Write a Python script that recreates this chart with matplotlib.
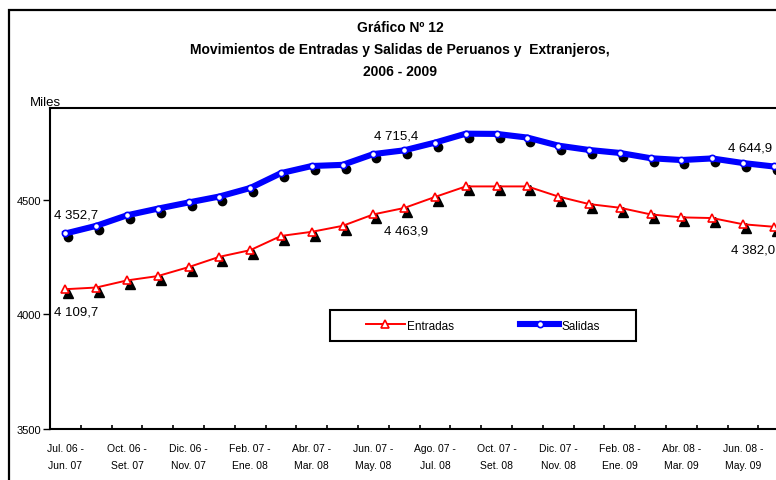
import matplotlib
matplotlib.use("Agg")
import matplotlib.pyplot as plt
import matplotlib.transforms as mtransforms
from matplotlib.patches import Rectangle
from matplotlib.lines import Line2D

periods = ["Jul. 06 -\nJun. 07", "", "Oct. 06 -\nSet. 07", "", "Dic. 06 -\nNov. 07", "",
           "Feb. 07 -\nEne. 08", "", "Abr. 07 -\nMar. 08", "", "Jun. 07 -\nMay. 08", "",
           "Ago. 07 -\nJul. 08", "", "Oct. 07 -\nSet. 08", "", "Dic. 07 -\nNov. 08", "",
           "Feb. 08 -\nEne. 09", "", "Abr. 08 -\nMar. 09", "", "Jun. 08 -\nMay. 09", ""]
salidas = [4352.7, 4386, 4432, 4461, 4488, 4514, 4551, 4616, 4647, 4652, 4699, 4715.4,
           4749, 4788, 4787, 4771, 4736, 4717, 4704, 4681, 4673, 4680, 4660, 4644.9]
entradas = [4109.7, 4117, 4148, 4167, 4206, 4251, 4280, 4342, 4360, 4386, 4436, 4463.9,
            4512, 4558, 4558, 4558, 4514, 4481, 4465, 4436, 4423, 4420, 4393, 4382.0]
labels_sal = {0: "4 352,7", 11: "4 715,4", 23: "4 644,9"}
labels_ent = {0: "4 109,7", 11: "4 463,9", 23: "4 382,0"}

W, H = 776, 481
fig = plt.figure(figsize=(W / 100, H / 100), dpi=100)
plt.rcParams['font.family'] = ['Liberation Sans', 'DejaVu Sans']
narrow = ['Liberation Sans Narrow', 'Liberation Sans', 'DejaVu Sans']

# outer frame (extends beyond image)
fig.patches.append(Rectangle((9 / W, -0.1), 1.2, (481 - 11 + 48) / H, transform=fig.transFigure,
                             fill=False, edgecolor='black', linewidth=1.6, zorder=0))

x0, x1 = 50, 50 + 24 * 30.8
y_top, y_bot = 109, 430
ax = fig.add_axes([x0 / W, (H - y_bot) / H, (x1 - x0) / W, (y_bot - y_top) / H])
ax.set_xlim(-0.5, 23.5)
ax.set_ylim(3500, 4900)

xs = list(range(len(salidas)))

# shadows
shadow = mtransforms.offset_copy(ax.transData, fig=fig, x=3, y=-4, units='dots')
ax.plot(xs, salidas, linestyle='none', marker='o', markersize=6, color='black',
        transform=shadow, zorder=2)
ax.plot(xs, entradas, linestyle='none', marker='^', markersize=7, color='black',
        transform=shadow, zorder=2)

ax.plot(xs, salidas, color='#0000FF', linewidth=4.4, marker='o', markersize=4.5,
        markerfacecolor='white', markeredgecolor='#0000FF', markeredgewidth=1.2, zorder=3)
ax.plot(xs, entradas, color='#FF0000', linewidth=1.4, marker='^', markersize=5.5,
        markerfacecolor='white', markeredgecolor='#FF0000', markeredgewidth=1.2, zorder=3)

for i, t in labels_sal.items():
    dx, dy = {0: 8, 11: -6, 23: -17}[i], {0: 9, 11: 6, 23: 9}[i]
    ax.annotate(t, (i, salidas[i]), xytext=(dx, dy), textcoords='offset points',
                ha='center', va='bottom', fontsize=9.5)
for i, t in labels_ent.items():
    dx = {0: 8, 11: 1, 23: -15}[i]
    ax.annotate(t, (i, entradas[i]), xytext=(dx, -12), textcoords='offset points',
                ha='center', va='top', fontsize=9.5)

ax.set_yticks([3500, 4000, 4500])
ax.set_yticklabels(["3500", "4000", "4500"], fontsize=8)
ax.tick_params(axis='y', direction='out', length=5, width=1, pad=1.5)

ax.set_xticks(xs)
ax.set_xticklabels(periods, fontsize=7.5, family=narrow, linespacing=1.9)
ax.set_xticks([i + 0.5 for i in xs], minor=True)
ax.tick_params(axis='x', which='major', length=0, pad=10)
ax.tick_params(axis='x', which='minor', direction='in', length=3, width=1.2)

for s in ax.spines.values():
    s.set_linewidth(1.5)

fig.text(30 / W, 1 - 103 / H, "Miles", fontsize=9.5, va='center', ha='left')

fig.text(400 / W, 1 - 28 / H, "Gráfico Nº 12", fontsize=10, fontweight='bold',
         ha='center', va='center', family=narrow)
fig.text(400 / W, 1 - 50 / H, "Movimientos de Entradas y Salidas de Peruanos y  Extranjeros,",
         fontsize=10, fontweight='bold', ha='center', va='center', family=narrow)
fig.text(400 / W, 1 - 72 / H, "2006 - 2009", fontsize=10, fontweight='bold',
         ha='center', va='center', family=narrow)

# legend box
lx0, lx1, ly0, ly1 = 330, 636, 311, 342
fig.patches.append(Rectangle((lx0 / W, 1 - ly1 / H), (lx1 - lx0) / W, (ly1 - ly0) / H,
                             transform=fig.transFigure, fill=True, facecolor='white',
                             edgecolor='black', linewidth=1.5, zorder=5))
h1 = Line2D([], [], color='#FF0000', linewidth=1.4, marker='^', markersize=5.5,
            markerfacecolor='white', markeredgecolor='#FF0000', markeredgewidth=1.2)
h2 = Line2D([], [], color='#0000FF', linewidth=4.4, marker='o', markersize=4.5,
            markerfacecolor='white', markeredgecolor='#0000FF', markeredgewidth=1.2)
leg = fig.legend([h1, h2], ["Entradas", "Salidas"], ncol=2, loc='center',
                 bbox_to_anchor=((lx0 + lx1) / 2 / W, 1 - (ly0 + ly1) / 2 / H),
                 bbox_transform=fig.transFigure, frameon=False,
                 handlelength=3.3, handletextpad=0.2, borderaxespad=0, borderpad=0,
                 prop={'family': narrow, 'size': 8.5}, columnspacing=5.6)
leg.set_zorder(6)

fig.savefig("out.png", dpi=100)
